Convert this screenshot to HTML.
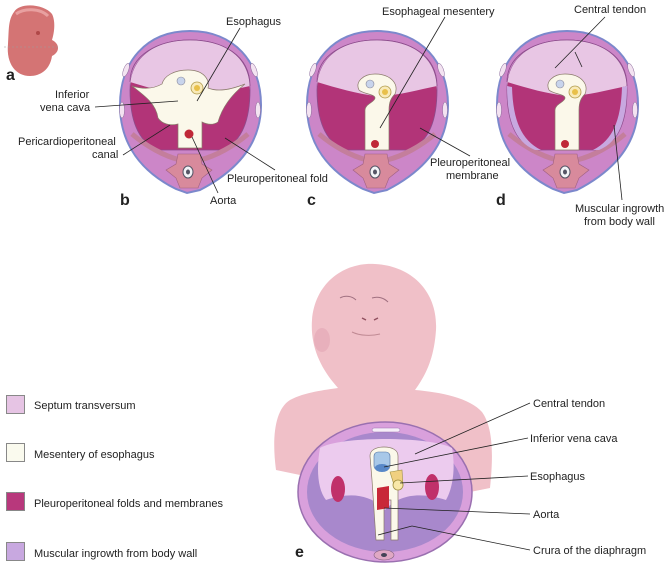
<!DOCTYPE html>
<html><head><meta charset="utf-8"><style>
html,body{margin:0;padding:0;background:#fff;width:671px;height:566px;overflow:hidden}
svg{display:block}
text{font-family:"Liberation Sans",Arial,sans-serif;fill:#222}
</style></head><body>
<svg width="671" height="566" viewBox="0 0 671 566" xmlns="http://www.w3.org/2000/svg">
<defs>
<g id="base">
 <path d="M0,-79 C44,-79 71,-48 71,-5 C71,35 45,62 10,80 L-3,83 L-14,79 C-48,62 -70,35 -70,-5 C-70,-48 -44,-79 0,-79Z" fill="#cc86c8" stroke="#7c88cc" stroke-width="2"/>
 <path d="M-60,-20 C-60,-55 -32,-70 0,-70 C32,-70 60,-55 60,-20 C60,10 52,32 32,40 L-32,40 C-52,32 -60,10 -60,-20Z" fill="#b23478" stroke="#8c4c8c" stroke-width="0.8"/>
 <path d="M-60,-20 C-60,-55 -32,-70 0,-70 C32,-70 60,-55 60,-20 L60,-24 C40,-20 20,-14 0,-14 C-20,-16 -40,-22 -60,-28Z" fill="#e8c6e4"/>
 <path d="M-60,-28 C-60,-55 -32,-70 0,-70 C32,-70 60,-55 60,-24" fill="none" stroke="#8c4c8c" stroke-width="0.8"/>
 <ellipse cx="-64" cy="-40" rx="2.5" ry="7" fill="#f3e3f1" stroke="#8a6a9a" stroke-width="0.5" transform="rotate(20 -64 -40)"/>
 <ellipse cx="-68" cy="0" rx="2.5" ry="8" fill="#f3e3f1" stroke="#8a6a9a" stroke-width="0.5"/>
 <ellipse cx="64" cy="-40" rx="2.5" ry="7" fill="#f3e3f1" stroke="#8a6a9a" stroke-width="0.5" transform="rotate(-20 64 -40)"/>
 <ellipse cx="68" cy="0" rx="2.5" ry="8" fill="#f3e3f1" stroke="#8a6a9a" stroke-width="0.5"/>
 <path d="M-58,24 C-44,36 -26,46 -10,50 M10,50 C26,46 44,36 58,24" fill="none" stroke="#c47e9c" stroke-width="5"/>
 <path d="M-12,44 L10,44 L12,54 L22,60 L12,68 L8,78 L-10,78 L-14,68 L-24,60 L-14,54Z" fill="#d88a9c" stroke="#a06080" stroke-width="0.6"/>
 <ellipse cx="-2" cy="62" rx="5" ry="6" fill="#f2f2f6" stroke="#556" stroke-width="1"/>
 <ellipse cx="-2" cy="62" rx="2" ry="2.5" fill="#556"/>
</g>
<g id="mes">
 <path d="M-12,40 L-12,0 C-12,-6 -2,-8 -2,-12 C-2,-16 -14,-16 -18,-20 C-22,-28 -14,-36 -2,-36 C14,-36 22,-26 18,-16 C14,-12 12,-8 12,0 L12,40Z" fill="#fbf8ea" stroke="#8a7a6a" stroke-width="0.7"/>
 <circle cx="-7" cy="-26" r="4" fill="#c8d4ec" stroke="#889" stroke-width="0.6"/>
 <circle cx="8" cy="-18" r="6" fill="#f8eab8" stroke="#b09a4a" stroke-width="0.8"/>
 <circle cx="8" cy="-18" r="3" fill="#e8c04a"/>
 <circle cx="-2" cy="34" r="4" fill="#c02838"/>
</g>
</defs>

<!-- panel a embryo -->
<path d="M14,12 C20,2 44,4 52,14 C56,22 54,34 52,40 C60,44 60,52 52,56 C50,70 40,76 30,76 C16,76 6,64 8,44 C9,30 8,20 14,12Z" fill="#d47474"/>
<path d="M16,14 C24,8 40,8 48,16" fill="none" stroke="#e8a0a0" stroke-width="3"/>
<circle cx="38" cy="33" r="2" fill="#b04848"/>
<line x1="4" y1="47" x2="60" y2="47" stroke="#999" stroke-width="0.6" stroke-dasharray="2,2"/>
<text x="6" y="80" font-size="16" font-weight="bold">a</text>

<!-- panel b -->
<g transform="translate(190,110)">
 <use href="#base"/>
 <path d="M-58,-24 C-45,-20 -35,-22 -28,-26 C-26,-34 -16,-40 -2,-40 C14,-40 20,-30 18,-22 C28,-18 40,-20 55,-26 C40,-14 32,-2 28,12 C22,16 16,14 12,12 L12,38 L-12,38 L-12,14 C-20,16 -28,14 -32,8 C-34,-6 -45,-14 -58,-24Z" fill="#fbf8ea" stroke="#8a7a6a" stroke-width="0.7"/>
 <circle cx="-9" cy="-29" r="4" fill="#c8d4ec" stroke="#889" stroke-width="0.6"/>
 <circle cx="7" cy="-22" r="6" fill="#f8eab8" stroke="#b09a4a" stroke-width="0.8"/>
 <circle cx="7" cy="-22" r="3" fill="#e8c04a"/>
 <circle cx="-1" cy="24" r="4.5" fill="#c02838"/>
</g>
<text x="120" y="205" font-size="16" font-weight="bold">b</text>
<text x="226" y="25" font-size="11">Esophagus</text>
<line x1="240" y1="28" x2="197" y2="101" stroke="#222" stroke-width="0.8"/>
<text x="55" y="98" font-size="11">Inferior</text>
<text x="40" y="111" font-size="11">vena cava</text>
<line x1="95" y1="107" x2="178" y2="101" stroke="#222" stroke-width="0.8"/>
<text x="18" y="145" font-size="11">Pericardioperitoneal</text>
<text x="92" y="158" font-size="11">canal</text>
<line x1="123" y1="155" x2="170" y2="125" stroke="#222" stroke-width="0.8"/>
<text x="227" y="182" font-size="11">Pleuroperitoneal fold</text>
<line x1="275" y1="170" x2="225" y2="138" stroke="#222" stroke-width="0.8"/>
<text x="210" y="204" font-size="11">Aorta</text>
<line x1="218" y1="193" x2="192" y2="137" stroke="#222" stroke-width="0.8"/>

<!-- panel c -->
<g transform="translate(377,110)">
 <use href="#base"/>
 <use href="#mes"/>
</g>
<text x="307" y="205" font-size="16" font-weight="bold">c</text>
<text x="382" y="15" font-size="11">Esophageal mesentery</text>
<line x1="445" y1="17" x2="380" y2="128" stroke="#222" stroke-width="0.8"/>
<text x="430" y="166" font-size="11">Pleuroperitoneal</text>
<text x="446" y="179" font-size="11">membrane</text>
<line x1="470" y1="156" x2="420" y2="128" stroke="#222" stroke-width="0.8"/>

<!-- panel d -->
<g transform="translate(567,110)">
 <use href="#base"/>
 <path d="M-60,-24 C-60,10 -52,32 -32,40 L-26,40 C-46,30 -54,10 -55,-23Z M60,-24 C60,10 52,32 32,40 L26,40 C46,30 54,10 55,-23Z" fill="#c8a8e0"/>
 <use href="#mes"/>
</g>
<text x="496" y="205" font-size="16" font-weight="bold">d</text>
<text x="574" y="13" font-size="11">Central tendon</text>
<line x1="605" y1="17" x2="555" y2="68" stroke="#222" stroke-width="0.8"/>
<line x1="575" y1="52" x2="582" y2="67" stroke="#222" stroke-width="0.8"/>
<text x="575" y="212" font-size="11">Muscular ingrowth</text>
<text x="584" y="225" font-size="11">from body wall</text>
<line x1="622" y1="200" x2="614" y2="125" stroke="#222" stroke-width="0.8"/>

<!-- legend -->
<rect x="6.5" y="395.5" width="18" height="18" fill="#e6c4e4" stroke="#888"/>
<text x="34" y="409" font-size="11">Septum transversum</text>
<rect x="6.5" y="443.5" width="18" height="18" fill="#fafaee" stroke="#888"/>
<text x="34" y="458" font-size="11">Mesentery of esophagus</text>
<rect x="6.5" y="492.5" width="18" height="18" fill="#b8387c" stroke="#888"/>
<text x="34" y="507" font-size="11">Pleuroperitoneal folds and membranes</text>
<rect x="6.5" y="542.5" width="18" height="18" fill="#c8a8e0" stroke="#888"/>
<text x="34" y="557" font-size="11">Muscular ingrowth from body wall</text>

<!-- panel e baby -->
<path d="M276,470 C272,440 274,410 290,400 C305,392 325,390 338,388 C322,370 310,348 312,320 C315,282 345,262 375,264 C412,266 438,292 436,330 C434,360 425,376 415,390 C440,392 470,398 482,412 C492,426 494,450 490,488 L470,492 L300,475Z" fill="#f0c0c8"/>
<ellipse cx="322" cy="340" rx="8" ry="12" fill="#e8b0bc"/>
<path d="M340,298 C345,295 352,296 356,300 M372,298 C378,296 384,298 388,302" stroke="#a07080" fill="none" stroke-width="1"/>
<path d="M362,318 L366,320 M374,320 L378,318" stroke="#905060" stroke-width="1.5"/>
<path d="M352,332 C360,336 372,336 380,334" stroke="#c08a94" fill="none"/>
<ellipse cx="385" cy="492" rx="87" ry="70" fill="#d9a0dc" stroke="#9a70b0" stroke-width="1.5"/>
<ellipse cx="385" cy="492" rx="78" ry="60" fill="#a888cc"/>
<path d="M320,448 C340,436 430,436 452,448 C456,470 452,490 446,500 C420,492 400,494 385,510 C370,494 350,492 326,500 C318,490 316,470 320,448Z" fill="#eccbee"/>
<ellipse cx="338" cy="489" rx="7" ry="13" fill="#c0306a"/>
<ellipse cx="432" cy="487" rx="7" ry="13" fill="#c0306a"/>
<rect x="372" y="428" width="28" height="4" rx="2" fill="#f6eef8" stroke="#9a70b0" stroke-width="0.5"/>
<path d="M370,456 C370,450 376,447 384,447 C392,447 398,450 398,456 L398,540 L391,540 L391,500 L384,500 L384,540 L376,540 L372,480Z" fill="#fbf8ea" stroke="#8a7a6a" stroke-width="0.7"/>
<rect x="374" y="452" width="16" height="18" rx="4" fill="#a8c8e8" stroke="#5070a0" stroke-width="0.6"/>
<ellipse cx="382" cy="468" rx="7" ry="4" fill="#5888c8"/>
<path d="M390,472 L402,470 L403,486 L395,488Z" fill="#f0d080" stroke="#a09040" stroke-width="0.6"/>
<circle cx="398" cy="485" r="5" fill="#f8e8a8" stroke="#a09040" stroke-width="0.8"/>
<path d="M377,488 L389,486 L389,508 L377,510Z" fill="#c82838"/>
<ellipse cx="384" cy="555" rx="10" ry="5" fill="#e0a8c4" stroke="#806080" stroke-width="0.6"/>
<ellipse cx="384" cy="555" rx="3" ry="2" fill="#445"/>
<text x="295" y="557" font-size="16" font-weight="bold">e</text>
<text x="533" y="407" font-size="11">Central tendon</text>
<line x1="530" y1="403" x2="415" y2="454" stroke="#222" stroke-width="0.8"/>
<text x="530" y="442" font-size="11">Inferior vena cava</text>
<line x1="528" y1="438" x2="384" y2="467" stroke="#222" stroke-width="0.8"/>
<text x="530" y="480" font-size="11">Esophagus</text>
<line x1="528" y1="476" x2="400" y2="483" stroke="#222" stroke-width="0.8"/>
<text x="533" y="518" font-size="11">Aorta</text>
<line x1="530" y1="514" x2="384" y2="508" stroke="#222" stroke-width="0.8"/>
<text x="533" y="554" font-size="11">Crura of the diaphragm</text>
<line x1="530" y1="550" x2="412" y2="526" stroke="#222" stroke-width="0.8"/>
<line x1="412" y1="526" x2="378" y2="535" stroke="#222" stroke-width="0.8"/>
</svg>
</body></html>
